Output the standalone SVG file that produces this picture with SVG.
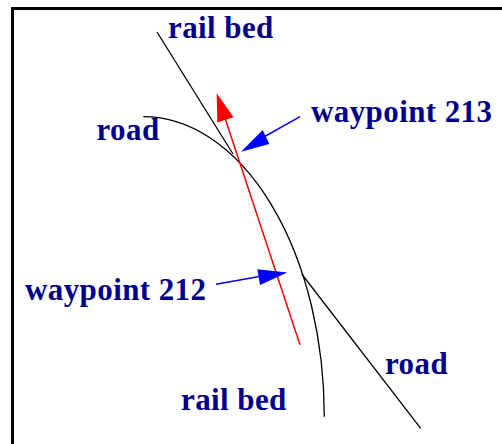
<svg xmlns="http://www.w3.org/2000/svg" width="502" height="444" viewBox="0 0 502 444">
<style>
.lbl{font-family:"Liberation Serif","Times New Roman",serif;font-weight:bold;font-size:31px;fill:#00008b;letter-spacing:0.4px}
.blk{fill:none;stroke:#000;stroke-width:1.3}
</style>
<rect x="0" y="0" width="502" height="444" fill="#fff"/>
<g id="frame"><path d="M12.5,450 V8.5 H510" fill="none" stroke="#000" stroke-width="3"/></g>
<g id="connectors">
<path id="road-curve" class="blk" d="M143.3,116.7 A181,300 0 0 1 324.3,416.7"/>
<path id="railbed-line" class="blk" d="M157,32 L233,154"/>
<path id="road-line" class="blk" d="M301.7,274 L420.7,428.3"/>
<g id="red-arrow">
<path d="M300,344.7 L222,109" stroke="#f00" stroke-width="1.5" fill="none"/>
<polygon points="216.7,93.3 233.6,117.2 217.3,122.6" fill="#f00"/>
</g>
<g id="arrow-213">
<path d="M300,116.7 L262,138" stroke="#00f" stroke-width="1.5" fill="none"/>
<polygon points="241,151.7 262.7,130 269.3,144" fill="#00f"/>
</g>
<g id="arrow-212">
<path d="M216,284.3 L262,276" stroke="#00f" stroke-width="1.5" fill="none"/>
<polygon points="287.3,272.5 257.3,269.3 260,285" fill="#00f"/>
</g>
</g>
<g id="label-railbed-top"><text class="lbl" x="168" y="38.3">rail bed</text></g>
<g id="label-road-left"><text class="lbl" x="96.5" y="140">road</text></g>
<g id="label-waypoint-213"><text class="lbl" x="311" y="121.7">waypoint 213</text></g>
<g id="label-waypoint-212"><text class="lbl" x="25" y="300.3">waypoint 212</text></g>
<g id="label-road-right"><text class="lbl" x="385" y="373.7">road</text></g>
<g id="label-railbed-bottom"><text class="lbl" x="181" y="409.7">rail bed</text></g>
</svg>
